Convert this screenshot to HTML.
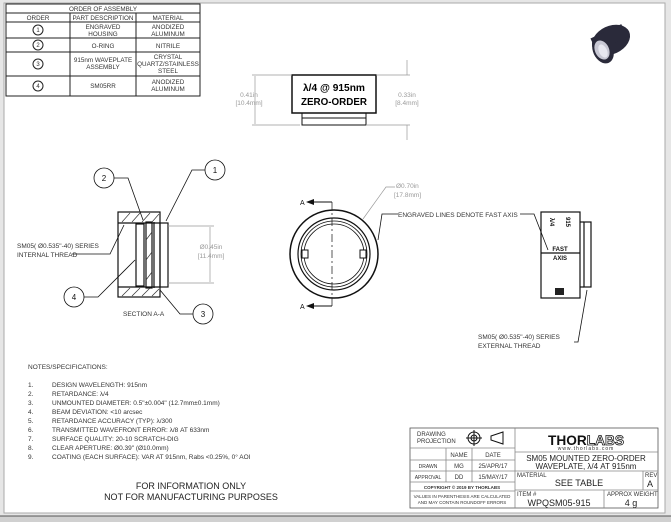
<!DOCTYPE html>
<html><head><meta charset="utf-8"><style>
html,body{margin:0;padding:0;background:#fff}
svg{display:block}
text{font-family:"Liberation Sans",sans-serif}
</style></head><body>
<svg width="671" height="522" viewBox="0 0 671 522" xmlns="http://www.w3.org/2000/svg">
<rect x="0" y="0" width="671" height="522" fill="#e6e6e6"/>
<rect x="4" y="3" width="661" height="510" fill="#fff" stroke="#aaa" stroke-width="1"/>
<rect x="0" y="516" width="671" height="6" fill="#d0d0d0"/>
<line x1="0" y1="516" x2="671" y2="516" stroke="#555"/>

<!-- assembly table -->
<g stroke="#222" stroke-width="1" fill="none">
<rect x="6" y="4" width="194" height="92"/>
<line x1="6" y1="13" x2="200" y2="13"/><line x1="6" y1="22" x2="200" y2="22"/>
<line x1="6" y1="38" x2="200" y2="38"/><line x1="6" y1="52" x2="200" y2="52"/><line x1="6" y1="76" x2="200" y2="76"/>
<line x1="70" y1="13" x2="70" y2="96"/><line x1="136" y1="13" x2="136" y2="96"/>
<circle cx="38" cy="30" r="5"/><circle cx="38" cy="45" r="5"/><circle cx="38" cy="64" r="5"/><circle cx="38" cy="86" r="5"/>
</g>
<g font-size="6.3" fill="#333" text-anchor="middle">
<text x="103" y="11">ORDER OF ASSEMBLY</text>
<text x="38" y="20">ORDER</text><text x="103" y="20">PART DESCRIPTION</text><text x="168" y="20">MATERIAL</text>
<text x="38" y="32" font-size="6">1</text><text x="38" y="47" font-size="6">2</text><text x="38" y="66" font-size="6">3</text><text x="38" y="88" font-size="6">4</text>
<text x="103" y="29">ENGRAVED</text><text x="103" y="36">HOUSING</text>
<text x="168" y="29">ANODIZED</text><text x="168" y="36">ALUMINUM</text>
<text x="103" y="48">O-RING</text><text x="168" y="48">NITRILE</text>
<text x="103" y="62">915nm WAVEPLATE</text><text x="103" y="69">ASSEMBLY</text>
<text x="168" y="59">CRYSTAL</text><text x="168" y="66">QUARTZ/STAINLESS</text><text x="168" y="73">STEEL</text>
<text x="103" y="88">SM05RR</text><text x="168" y="84">ANODIZED</text><text x="168" y="91">ALUMINUM</text>
</g>

<!-- photo -->
<g>
<ellipse cx="611" cy="40" rx="20" ry="14" fill="#2a2a3a" transform="rotate(-25 611 40)"/>
<rect x="593" y="30" width="34" height="14" fill="#2a2a3a" transform="rotate(-25 611 40)"/>
<ellipse cx="603" cy="50" rx="10" ry="14" fill="#2a2a3a" transform="rotate(-25 603 50)"/>
<ellipse cx="602" cy="50" rx="7" ry="10" fill="#c8c8d4" transform="rotate(-25 602 50)"/>
<ellipse cx="603" cy="51" rx="4" ry="7" fill="#e8e8f0" transform="rotate(-25 603 51)"/>
</g>

<!-- top view -->
<g stroke="#111" fill="none">
<rect x="292" y="75" width="84" height="38" stroke-width="1.5"/>
<rect x="302" y="113" width="64" height="12" stroke-width="1"/>
<line x1="302" y1="118" x2="366" y2="118"/>
</g>
<text x="334" y="91" font-size="10" font-weight="bold" text-anchor="middle" fill="#000" textLength="62" lengthAdjust="spacingAndGlyphs">λ/4 @ 915nm</text>
<text x="334" y="105" font-size="10" font-weight="bold" text-anchor="middle" fill="#000" textLength="66" lengthAdjust="spacingAndGlyphs">ZERO-ORDER</text>
<g stroke="#999" stroke-width="0.7">
<line x1="252" y1="75" x2="292" y2="75"/><line x1="252" y1="125" x2="300" y2="125"/><line x1="255" y1="76" x2="255" y2="124"/>
<line x1="376" y1="75" x2="410" y2="75"/><line x1="366" y1="125" x2="410" y2="125"/>
<line x1="407" y1="60" x2="407" y2="75"/><line x1="407" y1="125" x2="407" y2="140"/>
</g>
<g font-size="6.5" fill="#999" text-anchor="middle">
<text x="249" y="97">0.41in</text><text x="249" y="105">[10.4mm]</text>
<text x="407" y="97">0.33in</text><text x="407" y="105">[8.4mm]</text>
</g>

<!-- section view -->
<g stroke="#111" fill="none" stroke-width="1.2">
<rect x="118" y="212" width="42" height="85"/>
<line x1="118" y1="223" x2="160" y2="223"/><line x1="118" y1="287" x2="160" y2="287"/>
<rect x="160" y="223" width="8" height="64"/>
<rect x="136" y="224" width="8" height="62"/>
<rect x="146" y="222" width="6" height="66"/>
<line x1="154" y1="222" x2="154" y2="288"/>
</g>
<g stroke="#333" stroke-width="0.7">
<line x1="122" y1="222" x2="130" y2="213"/><line x1="132" y1="222" x2="140" y2="213"/><line x1="142" y1="222" x2="150" y2="213"/><line x1="152" y1="222" x2="159" y2="214"/>
<line x1="122" y1="296" x2="130" y2="288"/><line x1="132" y1="296" x2="140" y2="288"/><line x1="142" y1="296" x2="150" y2="288"/><line x1="152" y1="296" x2="159" y2="289"/>
<line x1="146" y1="240" x2="152" y2="232"/><line x1="146" y1="260" x2="152" y2="252"/><line x1="146" y1="280" x2="152" y2="272"/>
</g>
<g stroke="#111" stroke-width="0.8" fill="none">
<circle cx="215" cy="170" r="10"/><circle cx="104" cy="178" r="10"/><circle cx="74" cy="297" r="10"/><circle cx="203" cy="314" r="10"/>
<polyline points="205,170 192,170 166,221"/>
<polyline points="114,178 128,178 143,220"/>
<polyline points="84,297 98,297 135,260"/>
<polyline points="193,314 180,314 160,290"/>
<polyline points="72,254 110,254 124,225"/>
</g>
<g font-size="8" fill="#111" text-anchor="middle"><text x="215" y="173">1</text><text x="104" y="181">2</text><text x="74" y="300">4</text><text x="203" y="317">3</text></g>
<g font-size="6.5" fill="#333"><text x="17" y="248">SM05( Ø0.535"-40) SERIES</text><text x="17" y="257">INTERNAL THREAD</text>
<text x="123" y="316">SECTION A-A</text></g>
<g stroke="#999" stroke-width="0.7"><line x1="168" y1="226" x2="214" y2="226"/><line x1="168" y1="283" x2="214" y2="283"/><line x1="210" y1="227" x2="210" y2="282"/></g>
<g font-size="6.5" fill="#999" text-anchor="middle"><text x="211" y="249">Ø0.45in</text><text x="211" y="258">[11.4mm]</text></g>

<!-- front view -->
<g stroke="#111" fill="none">
<circle cx="334" cy="254" r="44" stroke-width="1.5"/>
<circle cx="334" cy="254" r="36" stroke-width="1.2"/>
<circle cx="334" cy="254" r="33" stroke-width="0.8"/>
<circle cx="334" cy="254" r="30" stroke-width="0.8"/>
<rect x="302" y="250" width="6" height="8" fill="#fff"/><rect x="360" y="250" width="6" height="8" fill="#fff"/>
<line x1="332" y1="202" x2="332" y2="306" stroke-dasharray="8,3,2,3" stroke-width="0.7"/>
<line x1="312" y1="202" x2="332" y2="202"/><line x1="312" y1="306" x2="332" y2="306"/>
<polyline points="378,240 382,214 398,214" stroke-width="0.8"/>
<polyline points="520,214 534,214 548,250" stroke-width="0.8"/>
</g>
<g stroke="#999" stroke-width="0.7" fill="none"><polyline points="363,219 386,187 395,187"/></g>
<polygon points="306,202 314,199 314,205" fill="#111"/><polygon points="306,306 314,303 314,309" fill="#111"/>
<g font-size="7" fill="#111"><text x="300" y="205">A</text><text x="300" y="309">A</text></g>
<g font-size="6.5" fill="#999"><text x="396" y="188">Ø0.70in</text><text x="394" y="197">[17.8mm]</text></g>
<text x="398" y="217" font-size="6.5" fill="#333">ENGRAVED LINES DENOTE FAST AXIS</text>

<!-- side view -->
<g stroke="#111" fill="none" stroke-width="1.2">
<rect x="541" y="212" width="39" height="86"/>
<line x1="541" y1="253" x2="580" y2="253"/>
<rect x="584" y="222" width="7" height="65"/>
<line x1="580" y1="222" x2="584" y2="222"/><line x1="580" y1="287" x2="584" y2="287"/>
<polyline points="574,342 578,342 587,290" stroke-width="0.8"/>
</g>
<g font-size="6" font-weight="bold" fill="#111" text-anchor="middle">
<text x="560" y="251">FAST</text><text x="560" y="260">AXIS</text>
<text x="550" y="222" transform="rotate(90 550 222)">λ/4</text>
<text x="566" y="222" transform="rotate(90 566 222)">915</text>
</g>
<rect x="555" y="288" width="9" height="7" fill="#222"/>
<g font-size="6.5" fill="#333"><text x="478" y="339">SM05( Ø0.535"-40) SERIES</text><text x="478" y="348">EXTERNAL THREAD</text></g>

<!-- notes -->
<g font-size="6.5" fill="#333">
<text x="28" y="369">NOTES/SPECIFICATIONS:</text>
<text x="28" y="387">1.</text><text x="52" y="387">DESIGN WAVELENGTH: 915nm</text>
<text x="28" y="396">2.</text><text x="52" y="396">RETARDANCE: λ/4</text>
<text x="28" y="405">3.</text><text x="52" y="405">UNMOUNTED DIAMETER: 0.5"±0.004" (12.7mm±0.1mm)</text>
<text x="28" y="414">4.</text><text x="52" y="414">BEAM DEVIATION: &lt;10 arcsec</text>
<text x="28" y="423">5.</text><text x="52" y="423">RETARDANCE ACCURACY (TYP): λ/300</text>
<text x="28" y="432">6.</text><text x="52" y="432">TRANSMITTED WAVEFRONT ERROR: λ/8 AT 633nm</text>
<text x="28" y="441">7.</text><text x="52" y="441">SURFACE QUALITY: 20-10 SCRATCH-DIG</text>
<text x="28" y="450">8.</text><text x="52" y="450">CLEAR APERTURE: Ø0.39" (Ø10.0mm)</text>
<text x="28" y="459">9.</text><text x="52" y="459">COATING (EACH SURFACE): VAR AT 915nm, Rabs &lt;0.25%, 0° AOI</text>
</g>
<g font-size="9" fill="#222" text-anchor="middle"><text x="191" y="489">FOR INFORMATION ONLY</text><text x="191" y="500">NOT FOR MANUFACTURING PURPOSES</text></g>

<!-- title block -->
<g stroke="#888" stroke-width="0.8" fill="none">
<rect x="410" y="428" width="248" height="80" stroke="#555"/>
<line x1="515" y1="428" x2="515" y2="508"/>
<line x1="410" y1="448" x2="515" y2="448"/><line x1="410" y1="460" x2="515" y2="460"/><line x1="410" y1="471" x2="515" y2="471"/><line x1="410" y1="482" x2="515" y2="482"/><line x1="410" y1="491" x2="515" y2="491"/>
<line x1="446" y1="448" x2="446" y2="482"/><line x1="472" y1="448" x2="472" y2="482"/>
<line x1="515" y1="452" x2="658" y2="452"/><line x1="515" y1="471" x2="658" y2="471"/><line x1="515" y1="490" x2="658" y2="490"/>
<line x1="643" y1="471" x2="643" y2="490"/><line x1="604" y1="490" x2="604" y2="508"/>
</g>
<g stroke="#111" stroke-width="1" fill="none">
<circle cx="474" cy="438" r="6"/><circle cx="474" cy="438" r="3"/><line x1="466" y1="438" x2="482" y2="438"/><line x1="474" y1="430" x2="474" y2="446"/>
<polygon points="491,436 503,432 503,444 491,440"/>
</g>
<g font-size="6" fill="#333">
<text x="417" y="436">DRAWING</text><text x="417" y="443">PROJECTION</text>
<text x="459" y="457" text-anchor="middle">NAME</text><text x="493" y="457" text-anchor="middle">DATE</text>
<text x="428" y="468" text-anchor="middle" font-size="5">DRAWN</text><text x="459" y="468" text-anchor="middle">MG</text><text x="493" y="468" text-anchor="middle">25/APR/17</text>
<text x="428" y="479" text-anchor="middle" font-size="5">APPROVAL</text><text x="459" y="479" text-anchor="middle">DD</text><text x="493" y="479" text-anchor="middle">15/MAY/17</text>
<text x="462" y="489" text-anchor="middle" font-size="4.5" font-weight="bold">COPYRIGHT © 2019 BY THORLABS</text>
<text x="462" y="498" text-anchor="middle" font-size="4.5">VALUES IN PARENTHESIS ARE CALCULATED</text>
<text x="462" y="504" text-anchor="middle" font-size="4.5">AND MAY CONTAIN ROUNDOFF ERRORS</text>
<text x="517" y="477">MATERIAL</text><text x="645" y="477">REV</text>
<text x="517" y="496">ITEM #</text><text x="607" y="496">APPROX WEIGHT</text>
</g>
<text x="586" y="445" font-size="14" font-weight="bold" text-anchor="middle" fill="#111" textLength="76" lengthAdjust="spacingAndGlyphs">THOR<tspan fill="#fff" stroke="#111" stroke-width="0.8">LABS</tspan></text>
<text x="586" y="450" font-size="5" text-anchor="middle" fill="#333" letter-spacing="1">www.thorlabs.com</text>
<g fill="#222" text-anchor="middle">
<text x="586" y="461" font-size="8">SM05 MOUNTED ZERO-ORDER</text>
<text x="586" y="469" font-size="8">WAVEPLATE, λ/4 AT 915nm</text>
<text x="579" y="486" font-size="9">SEE TABLE</text><text x="650" y="487" font-size="9">A</text>
<text x="559" y="506" font-size="9">WPQSM05-915</text><text x="631" y="506" font-size="9">4 g</text>
</g>
</svg>
</body></html>
